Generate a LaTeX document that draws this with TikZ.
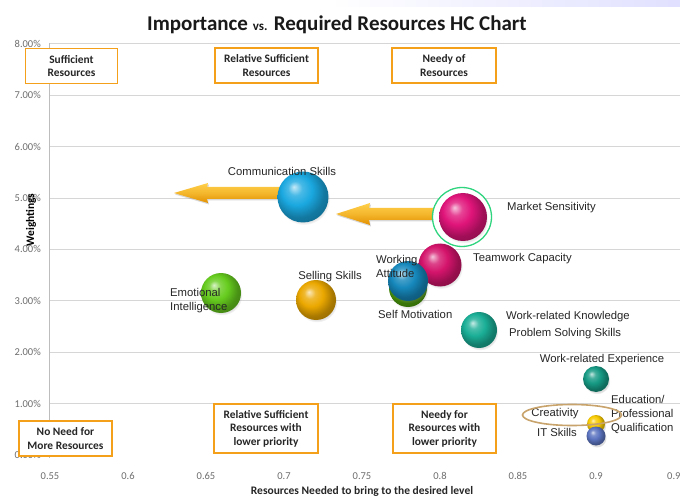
\documentclass[tikz,border=0pt]{standalone}
\usepackage{fontspec}
\setmainfont{Carlito}
\newfontfamily\arialf{Liberation Sans}
\usetikzlibrary{shapes.geometric,shadows}
\definecolor{boxor}{HTML}{F5A01A}
\definecolor{gridc}{HTML}{D6D6D6}
\definecolor{axisc}{HTML}{BDBDBD}
\definecolor{tickc}{HTML}{6E6E6E}
\definecolor{lblc}{HTML}{262626}
\definecolor{cBlue}{HTML}{1AA8E0}
\definecolor{cMag}{HTML}{E0147A}
\definecolor{cMag2}{HTML}{D4146C}
\definecolor{cDBlue}{HTML}{1688BC}
\definecolor{cGreen}{HTML}{4FA30C}
\definecolor{cLGreen}{HTML}{66CC1E}
\definecolor{cOrange}{HTML}{EBA800}
\definecolor{cTeal}{HTML}{1AAE96}
\definecolor{cTeal2}{HTML}{169A84}
\definecolor{cYellow}{HTML}{F8CA00}
\definecolor{cSlate}{HTML}{5C74C0}
\definecolor{ringc}{HTML}{2FD47E}
\definecolor{ellc}{HTML}{C8A36B}
\definecolor{arrTop}{HTML}{FFD04A}
\definecolor{arrBot}{HTML}{E39000}
\colorlet{sphc}{cBlue}
\pgfdeclareradialshading[sphc]{sphereshade}{\pgfqpoint{-9bp}{10bp}}{%
  color(0bp)=(sphc!25!white);
  color(7bp)=(sphc!80!white);
  color(15bp)=(sphc);
  color(25bp)=(sphc!72!black);
  color(50bp)=(sphc!45!black)}
\begin{document}
\begin{tikzpicture}[x=1pt,y=-1pt,
  gridline/.style={draw=gridc, line width=0.9pt},
  axisline/.style={draw=axisc, line width=0.9pt},
  tick/.style={font=\fontsize{10.5}{12}\selectfont, text=tickc, inner sep=0pt},
  qbox/.style={draw=boxor, line width=1.5pt, fill=white, align=center, inner sep=0pt,
    font=\bfseries\fontsize{11.4}{13.5}\selectfont, text=lblc},
  lbl/.style={font=\arialf\fontsize{11.3}{14}\selectfont, text=lblc, inner sep=0pt, align=left},
  spherecol/.code={\colorlet{sphc}{#1}},
  bub/.style={circle, inner sep=0pt, draw=none, shading=sphereshade,
    circular drop shadow={shadow xshift=1pt, shadow yshift=-2pt, opacity=0.25, shadow scale=1.02}},
  arrowshape/.style={top color=arrTop, bottom color=arrBot, middle color=arrTop!60!arrBot,
    drop shadow={shadow xshift=1pt, shadow yshift=-1.5pt, opacity=0.3}}
]
\useasboundingbox (0,0) rectangle (680,497);
\fill[white] (0,0) rectangle (680,497);
\fill[left color=white, right color=blue!12] (330,0) rectangle (680,7);

% title
\node[anchor=base, font=\bfseries\fontsize{21}{25}\selectfont, text=black!90] (title) at (337,31)
  {Importance {\fontsize{13}{15}\selectfont vs.} Required Resources HC Chart};

% grid
\foreach \v in {1,...,8}{
  \draw[gridline] (49,{455-51.4*\v}) -- (680,{455-51.4*\v});
}
\draw[axisline] (49,43) -- (49,458);

% y tick labels
\foreach \v/\t in {0/0.00,1/1.00,2/2.00,3/3.00,4/4.00,5/5.00,6/6.00,7/7.00,8/8.00}{
  \node[tick, anchor=east] (yt\v) at (41,{455-51.4*\v}) {\t\%};
}
% x tick labels
\foreach \i/\t in {0/0.55,1/0.6,2/0.65,3/0.7,4/0.75,5/0.8,6/0.85,7/0.9}{
  \node[tick] (xt\i) at ({50+78*\i},476) {\t};
}
\node[tick, anchor=west] (xt8) at (667,476) {0.9};

% axis titles
\node[font=\bfseries\fontsize{11.5}{13}\selectfont, rotate=90, text=black] (ytitle) at (31,220) {Weightings};
\node[font=\bfseries\fontsize{11.5}{13}\selectfont, text=lblc] (xtitle) at (362,491) {Resources Needed to bring to the desired level};

% arrows
\coordinate (tipA) at (174,193);
\coordinate (tipB) at (336,214);
\begin{scope}[shift={(tipA)}]
  \shade[arrowshape] (0,0) -- (34,-10) -- (33,-6) -- (111,-6) -- (111,6) -- (33,6) -- (34,10) -- cycle;
\end{scope}
\begin{scope}[shift={(tipB)}]
  \shade[arrowshape] (0,0) -- (34,-11) -- (33,-6) -- (102,-6) -- (102,6) -- (33,6) -- (34,11) -- cycle;
\end{scope}

% bubbles
\node[bub, spherecol=cGreen, minimum size=38pt] (selfmot) at (408,288) {};
\node[bub, spherecol=cMag2, minimum size=43pt] (team) at (440,265) {};
\node[bub, spherecol=cDBlue, minimum size=40pt] (workatt) at (408,281) {};
\node[circle, draw=ringc, line width=1.3pt, fill=white, minimum size=59pt, inner sep=0pt] (ring) at (462,217) {};
\node[bub, spherecol=cMag, minimum size=48pt] (market) at (463,217) {};
\node[bub, spherecol=cBlue, minimum size=51pt] (comm) at (303,197) {};
\node[bub, spherecol=cLGreen, minimum size=40pt] (emot) at (221,293) {};
\node[bub, spherecol=cOrange, minimum size=40pt] (sell) at (316,300) {};
\node[bub, spherecol=cTeal, minimum size=36pt] (wknow) at (479,330) {};
\node[bub, spherecol=cTeal2, minimum size=26pt] (wexp) at (596,379) {};
\node[bub, spherecol=cYellow, minimum size=18pt] (edu) at (596,424) {};
\node[bub, spherecol=cSlate, minimum size=19pt] (itsk) at (596,436) {};

% labels
\node[lbl] (lcomm) at (282,171) {Communication Skills};
\node[lbl, anchor=west] (lmarket) at (507,208) {Market Sensitivity};
\node[lbl, anchor=west] (lteam) at (473,259) {Teamwork Capacity};
\node[lbl, anchor=west] (lwork) at (376,266) {Working\\Attitude};
\node[lbl, anchor=west] (lself) at (378,314) {Self Motivation};
\node[lbl, anchor=west] (lemot) at (170,301) {Emotional\\Intelligence};
\node[lbl] (lsell) at (330,277) {Selling Skills};
\node[lbl, anchor=west] (lwknow) at (506,317) {Work-related Knowledge};
\node[lbl, anchor=west] (lprob) at (509,334) {Problem Solving Skills};
\node[lbl] (lwexp) at (602,360) {Work-related Experience};
\node[lbl, anchor=west] (ledu) at (611,414) {Education/\\Professional\\Qualification};
\node[lbl] (lcreat) at (555,414) {Creativity};
\node[lbl] (lit) at (557,432) {IT Skills};
\node[ellipse, draw=ellc, line width=1.6pt, minimum width=99pt, minimum height=21pt, inner sep=0pt] (crell) at (572,415) {};

% quadrant boxes
\node[qbox, minimum width=92pt, minimum height=35pt] (b1) at (71.5,66) {Sufficient\\Resources};
\node[qbox, minimum width=103pt, minimum height=35pt] (b2) at (266.5,65.5) {Relative Sufficient\\Resources};
\node[qbox, minimum width=104pt, minimum height=35pt] (b3) at (444,65.5) {Needy of\\Resources};
\node[qbox, minimum width=93pt, minimum height=35pt] (b4) at (65.5,438.5) {No Need for\\More Resources};
\node[qbox, minimum width=104pt, minimum height=49pt] (b5) at (266,428.5) {Relative Sufficient\\Resources with\\lower priority};
\node[qbox, minimum width=103pt, minimum height=49pt] (b6) at (444.5,428.5) {Needy for\\Resources with\\lower priority};
\end{tikzpicture}
\end{document}
